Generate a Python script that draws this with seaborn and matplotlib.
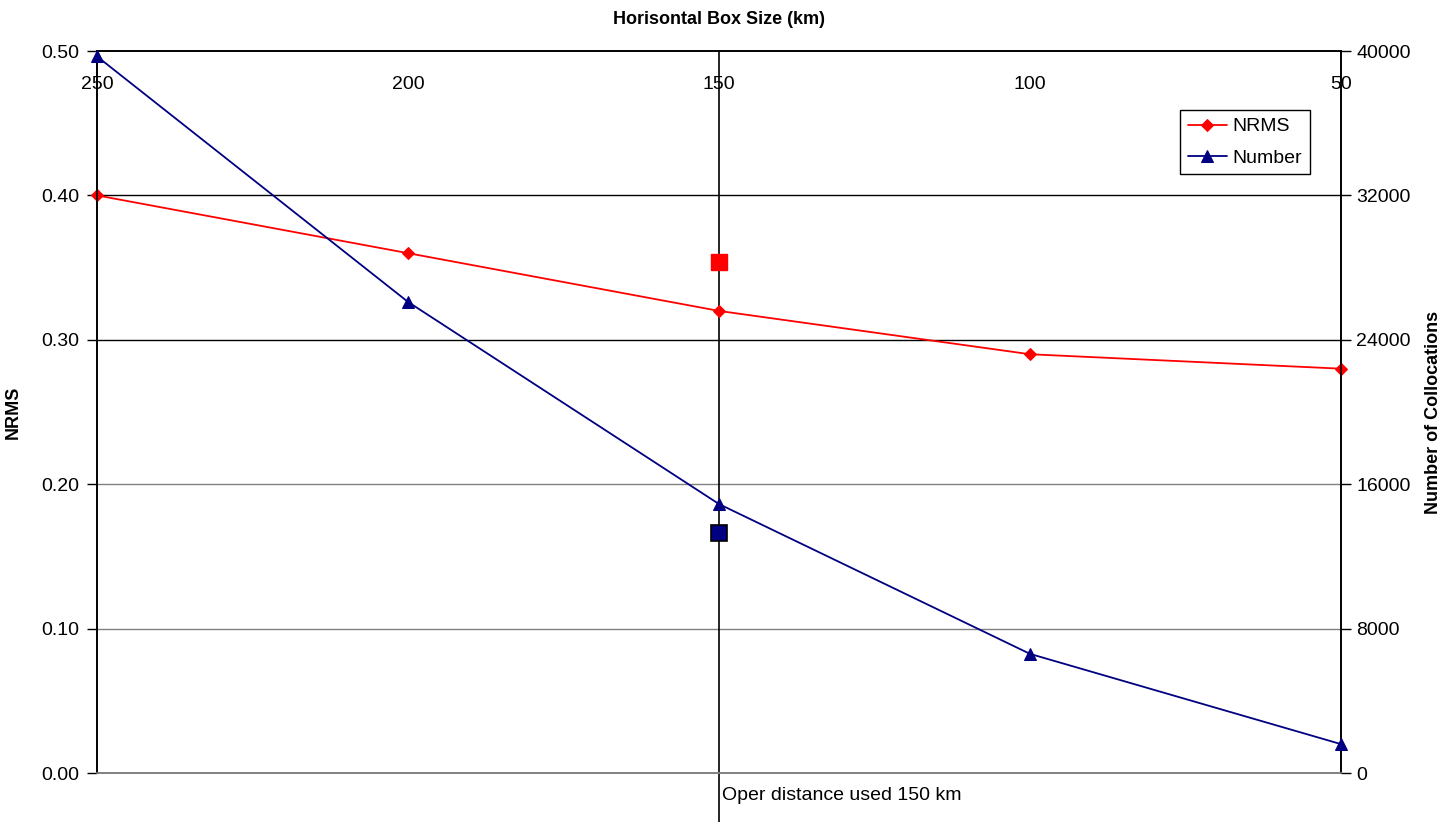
import matplotlib
matplotlib.use("Agg")
import matplotlib.pyplot as plt
import seaborn as sns
import pandas as pd

sns.set_theme(style="white")
plt.rcParams["font.family"] = ["Liberation Sans", "DejaVu Sans"]
plt.rcParams["text.color"] = "black"
plt.rcParams["axes.labelcolor"] = "black"
plt.rcParams["xtick.color"] = "black"
plt.rcParams["ytick.color"] = "black"

# Box sizes and the two series
box_size = [250, 200, 150, 100, 50]
nrms = [0.40, 0.36, 0.32, 0.29, 0.28]
number = [39700, 26100, 14900, 6600, 1600]

# Operational setting
oper_size = 150
oper_nrms = 0.354
oper_number = 13300

nrms_ticks = [0.0, 0.1, 0.2, 0.3, 0.4, 0.5]
number_ticks = [0, 8000, 16000, 24000, 32000, 40000]

df = pd.DataFrame({"box": box_size, "NRMS": nrms, "Number": number})

fig = plt.figure(figsize=(14.46, 8.22), dpi=100)
ax = fig.add_axes([97 / 1446, 1 - 773 / 822, (1341 - 97) / 1446, (773 - 51) / 822])
ax2 = ax.twinx()

red = "#ff0000"
navy = "#000080"
fs = 14

# gridlines
for v in nrms_ticks[1:-1]:
    col = "black" if v >= 0.3 else "#808080"
    ax.axhline(v, color=col, lw=1.0, zorder=1)

sns.lineplot(data=df, x="box", y="NRMS", ax=ax, color=red, marker="D",
             markersize=6, markeredgecolor=red, lw=1.3, label="NRMS", legend=False,
             zorder=3, clip_on=False)
sns.lineplot(data=df, x="box", y="Number", ax=ax2, color=navy, marker="^",
             markersize=8.5, markeredgecolor=navy, lw=1.3, label="Number", legend=False,
             zorder=3, clip_on=False)

# operational markers
ax.plot([oper_size], [oper_nrms], marker="s", markersize=12, color=red,
        markeredgecolor=red, zorder=4)
ax2.plot([oper_size], [oper_number], marker="s", markersize=11.5, color=navy,
         markeredgecolor="black", markeredgewidth=1.2, zorder=4)

ax.axvline(oper_size, ymin=-49 / 722, ymax=1, color="black", lw=1.2, clip_on=False, zorder=2)
ax.annotate("Oper distance used 150 km", xy=(oper_size, 0), xycoords=("data", "data"),
            xytext=(2, -16.5), textcoords="offset points", ha="left", va="center",
            fontsize=fs, annotation_clip=False)

ax.set_xlim(250, 50)
ax.set_ylim(0, 0.5)
ax2.set_ylim(0, 40000)

ax.set_yticks(nrms_ticks)
ax.set_yticklabels([f"{v:.2f}" for v in nrms_ticks])
ax2.set_yticks(number_ticks)
ax2.set_yticklabels([str(v) for v in number_ticks])
ax.set_xticks(box_size)
ax.set_xticklabels([str(v) for v in box_size])

ax.tick_params(axis="x", bottom=False, labelbottom=False, top=False, labeltop=True,
               length=0, pad=-30, labelsize=fs)
ax.tick_params(axis="y", left=True, length=7, width=1, color="black", direction="out",
               labelsize=fs, pad=6)
ax2.tick_params(axis="y", right=True, length=7, width=1, color="black", direction="out",
                labelsize=fs, pad=4)

for a in (ax, ax2):
    a.set_xlabel("")
    a.set_ylabel("")
    a.grid(False)
    for s in ("left", "right", "top"):
        a.spines[s].set_color("black")
        a.spines[s].set_linewidth(1.2)
    a.spines["bottom"].set_color("#808080")
    a.spines["bottom"].set_linewidth(1.2)

ax.set_ylabel("NRMS", fontsize=fs - 1, fontweight="bold", labelpad=14)
ax2.set_ylabel("Number of Collocations", fontsize=fs - 1, fontweight="bold", labelpad=10)
fig.text((97 + 1341) / 2 / 1446, 1 - 19 / 822, "Horisontal Box Size (km)",
         ha="center", va="center", fontsize=fs - 1, fontweight="bold")

h1, l1 = ax.get_legend_handles_labels()
h2, l2 = ax2.get_legend_handles_labels()
leg = ax2.legend(h1[:1] + h2[:1], ["NRMS", "Number"], loc="upper left",
                 bbox_to_anchor=((1180 - 97) / 1244, 1 - (110 - 51) / 722),
                 fontsize=fs, frameon=True, fancybox=False, framealpha=1,
                 edgecolor="black", handlelength=2.0, borderpad=0.4, labelspacing=0.7,
                 handletextpad=0.3, borderaxespad=0)
leg.get_frame().set_linewidth(1.0)

fig.savefig("out.png", dpi=100, facecolor="white")
